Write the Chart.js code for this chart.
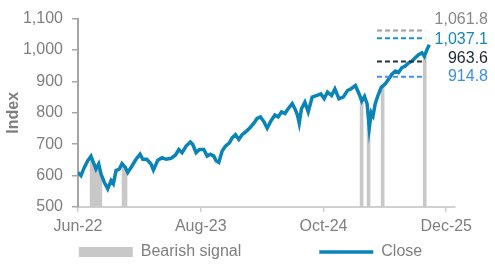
<!DOCTYPE html>
<html>
<head>
<meta charset="utf-8">
<script src="https://cdn.jsdelivr.net/npm/chart.js@4"></script>
<style>
  html, body { margin: 0; padding: 0; background: #fff; }
  #wrap { width: 495px; height: 269px; }
</style>
</head>
<body>
<div id="wrap"><canvas id="chart" width="495" height="269"></canvas></div>
<script>
// x values are months since 1 Jun 2022
const tickMonths = [0, 14, 28, 42];
const tickLabels = ['Jun-22', 'Aug-23', 'Oct-24', 'Dec-25'];

const closeMonths = [0, 0.34, 0.72, 1.1, 1.48, 1.75, 2.05, 2.36, 2.63, 3.0, 3.39, 3.77, 4.03, 4.34,
  4.72, 5.02, 5.4, 5.67, 6.05, 6.62, 7.08, 7.38, 7.84, 8.33, 8.6, 9.1, 9.59, 10.05, 10.6,
  11.1, 11.5, 11.87, 12.33, 12.82, 13.09, 13.47, 13.85, 14.35, 14.73, 15.1, 15.49, 15.75, 16.06,
  16.44, 16.82, 17.27, 17.58, 17.96, 18.34, 18.72, 19.18, 19.56, 20.06, 20.43, 20.81, 21.2, 21.58,
  21.96, 22.45, 22.83, 23.21, 23.6, 23.97, 24.43, 24.74, 25.03, 25.23, 25.49, 25.88, 26.26, 26.71,
  27.2, 27.7, 28.08, 28.46, 28.92, 29.3, 29.76, 30.25, 30.74, 31.13, 31.64, 32.06, 32.37, 32.68,
  32.98, 33.22, 33.45, 33.65, 33.9, 34.21, 34.59, 35.05, 35.42, 35.81, 36.19, 36.56, 36.95, 37.33,
  37.7, 38.09, 38.47, 38.85, 39.23, 39.5, 39.8, 40.07];
const closeValues = [610, 600, 626, 647, 662, 642, 621, 637, 605, 579, 558, 584, 574, 616,
  621, 638, 626, 610, 626, 652, 668, 652, 652, 637, 618, 649, 657, 652, 655,
  665, 683, 673, 694, 707, 699, 673, 683, 683, 662, 668, 662, 647, 642,
  678, 694, 704, 720, 730, 715, 730, 741, 751, 767, 782, 787, 772, 751,
  772, 793, 787, 803, 798, 813, 829, 813, 793, 767, 813, 834, 803, 850,
  855, 860, 845, 866, 855, 876, 845, 850, 871, 876, 887, 860, 837, 852,
  828, 751, 800, 790, 829, 855, 881, 892, 907, 923, 933, 928, 944, 949,
  959, 965, 975, 985, 991, 980, 1001, 1017];

const bearishMonths = [1.55, 1.8, 2.05, 2.3, 2.55, 5.2, 5.42, 32.35, 33.14, 34.75, 39.55];
const bearishValues = [655, 640, 621, 633, 610, 632, 622, 837, 770, 885, 980];

const targetValues = [1061.8, 1037.1, 963.6, 914.8];
const targetFrom = 34.1;
const targetTo = 39.6;

const lineColors = ['#a0a0a0', '#1a90c0', '#243240', '#3f8ff0'];
const textColors = ['#888888', '#1587b8', '#1e2832', '#3b8ee8'];
const closeColor = '#0a84b6';
const barColor = '#c8c8c8';
const axisText = '#7f7f7f';

Chart.defaults.font.family = '"Liberation Sans", Arial, sans-serif';
Chart.defaults.font.size = 16;

const zip = (xs, ys) => xs.map((x, i) => ({ x: x, y: ys[i] }));

const targetSets = targetValues.map((v, i) => ({
  type: 'line',
  label: 'target' + i,
  data: [{ x: targetFrom, y: v }, { x: targetTo, y: v }],
  borderColor: lineColors[i],
  borderWidth: 2,
  borderDash: [5, 3],
  pointRadius: 0,
  order: 0
}));

// value labels to the right of the dashed lines
const targetText = {
  id: 'targetText',
  afterDatasetsDraw(chart, args, opts) {
    const { ctx, chartArea } = chart;
    const y = chart.scales.y;
    ctx.save();
    ctx.font = '16px "Liberation Sans", Arial, sans-serif';
    ctx.textAlign = 'right';
    ctx.textBaseline = 'middle';
    targetValues.forEach((v, i) => {
      ctx.fillStyle = textColors[i];
      const txt = v.toLocaleString('en-US', { minimumFractionDigits: 1 });
      ctx.fillText(txt, chartArea.right + opts.dx, y.getPixelForValue(v) + opts.offsets[i]);
    });
    ctx.restore();
  }
};

new Chart(document.getElementById('chart'), {
  type: 'bar',
  data: {
    datasets: [
      {
        type: 'bar',
        label: 'Bearish signal',
        data: zip(bearishMonths, bearishValues),
        backgroundColor: barColor,
        barThickness: 3,
        order: 2
      },
      {
        type: 'line',
        label: 'Close',
        data: zip(closeMonths, closeValues),
        borderColor: closeColor,
        borderWidth: 3.5,
        pointRadius: 0,
        tension: 0,
        order: 1
      },
      ...targetSets
    ]
  },
  options: {
    responsive: false,
    animation: false,
    layout: { padding: { top: 15, left: 6, right: 0, bottom: -1 } },
    plugins: {
      tooltip: { enabled: false },
      targetText: { dx: 33, offsets: [-11.5, 1.3, -3, 0] },
      legend: {
        position: 'bottom',
        labels: {
          usePointStyle: true,
          pointStyleWidth: 54,
          boxHeight: 10,
          padding: 8,
          font: { size: 16 },
          generateLabels: () => [
            { text: 'Bearish signal', fillStyle: barColor, strokeStyle: barColor, lineWidth: 0, pointStyle: 'rect', fontColor: axisText, hidden: false },
            // blank item keeps the two entries apart
            { text: '', fillStyle: 'rgba(0,0,0,0)', strokeStyle: 'rgba(0,0,0,0)', lineWidth: 0, pointStyle: 'rect', fontColor: axisText, hidden: false },
            { text: 'Close', fillStyle: closeColor, strokeStyle: closeColor, lineWidth: 3.5, pointStyle: 'line', fontColor: axisText, hidden: false }
          ]
        }
      }
    },
    scales: {
      x: {
        type: 'linear',
        min: 0,
        max: 43,
        offset: false,
        afterBuildTicks: s => { s.ticks = tickMonths.map(v => ({ value: v })); },
        afterFit: s => { s.height = 29; },
        ticks: {
          autoSkip: false,
          maxRotation: 0,
          padding: 5,
          color: axisText,
          callback: v => tickLabels[tickMonths.indexOf(v)]
        },
        grid: { offset: false, drawOnChartArea: false, tickLength: 5, color: '#d0d0d0', lineWidth: 1.5 },
        border: { color: '#d0d0d0', width: 2 }
      },
      y: {
        min: 500,
        max: 1100,
        afterFit: s => { s.width = 72; },
        ticks: {
          stepSize: 100,
          padding: 9,
          color: axisText,
          callback: v => v.toLocaleString('en-US')
        },
        grid: { drawOnChartArea: false, tickLength: 6, color: '#a6a6a6', lineWidth: 1.5 },
        border: { color: '#a6a6a6', width: 2 },
        title: {
          display: true,
          text: 'Index',
          color: axisText,
          font: { size: 16, weight: 'bold' },
          padding: { top: -2, bottom: 0 }
        }
      },
      yR: {
        position: 'right',
        display: true,
        ticks: { display: false },
        grid: { display: false },
        border: { display: false },
        afterFit: s => { s.width = 40; }
      }
    }
  },
  plugins: [targetText]
});
</script>
</body>
</html>
